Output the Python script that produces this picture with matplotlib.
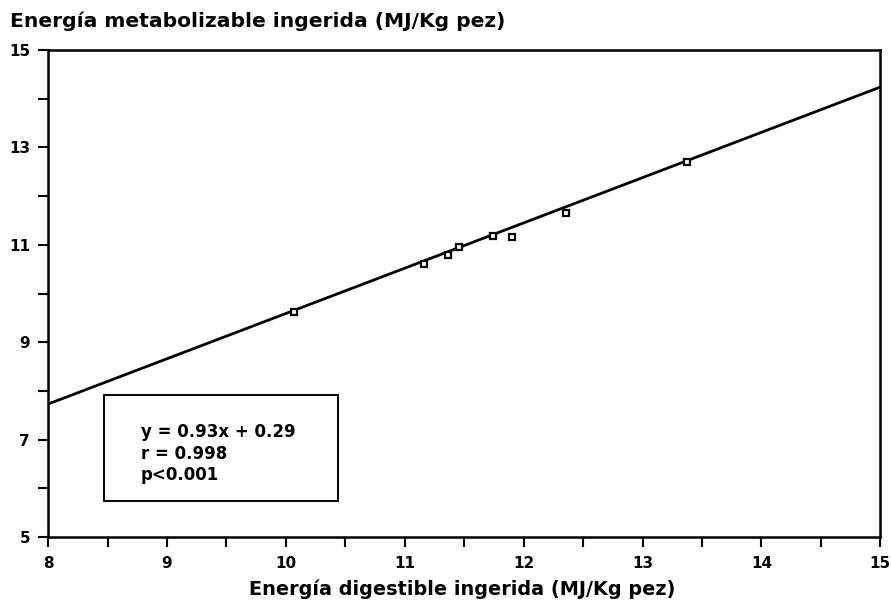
import numpy as np
import matplotlib.pyplot as plt
from matplotlib.ticker import FixedLocator

# Energía digestible vs metabolizable ingerida (MJ/Kg pez)
ed_ingerida = [10.07, 11.16, 11.36, 11.46, 11.74, 11.90, 12.36, 13.37]
em_ingerida = [9.62, 10.61, 10.79, 10.95, 11.18, 11.17, 11.66, 12.71]

# regression y = a*x + b
pendiente = 0.93
ordenada = 0.29
stats_text = ["y = 0.93x + 0.29", "r = 0.998", "p<0.001"]

x_ticks = [8, 9, 10, 11, 12, 13, 14, 15]
y_ticks = [5, 7, 9, 11, 13, 15]

plt.rcParams['font.family'] = ['DejaVu Sans']

fig = plt.figure(figsize=(8.91, 6.03), dpi=100)
ax = fig.add_axes([0.054, 0.1095, 0.934, 0.8075])

# fitted line over the full x range
x_line = np.array([8.0, 15.0])
ax.plot(x_line, pendiente * x_line + ordenada, color='black', lw=2.0, zorder=2)

# data points
ax.plot(ed_ingerida, em_ingerida, linestyle='none', marker='s', markersize=5,
        markerfacecolor='white', markeredgecolor='black', markeredgewidth=1.6, zorder=3)

ax.set_xlim(8, 15)
ax.set_ylim(5, 15)
ax.xaxis.set_major_locator(FixedLocator(x_ticks))
ax.xaxis.set_minor_locator(FixedLocator([t + 0.5 for t in x_ticks[:-1]]))
ax.yaxis.set_major_locator(FixedLocator(y_ticks))
ax.yaxis.set_minor_locator(FixedLocator([t + 1 for t in y_ticks[:-1]]))
ax.set_xticklabels([str(t) for t in x_ticks])
ax.set_yticklabels([str(t) for t in y_ticks])
ax.tick_params(which='both', direction='out', width=1.5, length=7, labelsize=11, color='black')
ax.tick_params(axis='x', pad=7)
ax.tick_params(axis='y', pad=6)
for sp in ax.spines.values():
    sp.set_linewidth(1.8)

for lbl in ax.get_xticklabels() + ax.get_yticklabels():
    lbl.set_fontweight('bold')

# axis titles
fig.text(0.5185, 0.013, "Energía digestible ingerida (MJ/Kg pez)", fontsize=13.9,
         fontweight='bold', ha='center', va='baseline')
fig.text(0.011, 0.955, "Energía metabolizable ingerida (MJ/Kg pez)", fontsize=14.6,
         fontweight='bold', ha='left', va='baseline')

# stats box
box = plt.Rectangle((8.47, 5.74), 1.97, 2.18, fill=True, facecolor='white',
                    edgecolor='black', lw=1.4, zorder=4)
ax.add_patch(box)
for i, t in enumerate(stats_text):
    ax.text(8.78, 7.06 - i * 0.45, t, fontsize=12, fontweight='bold',
            ha='left', va='baseline', zorder=5)

fig.savefig('out.png', dpi=100)
